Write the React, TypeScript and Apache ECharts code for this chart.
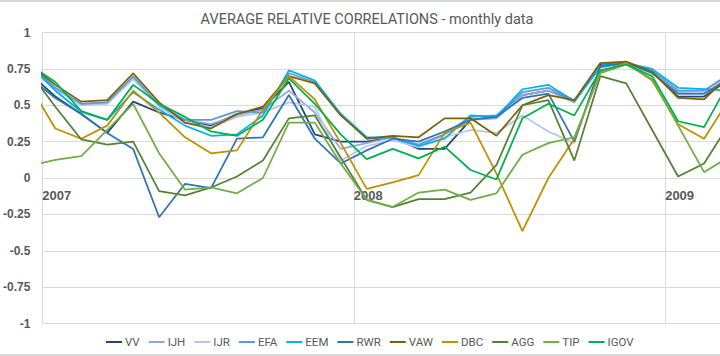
import React, { useEffect, useRef } from "react";
import * as echarts from "echarts";

const months = [
  "2006-12",
  "2007-01", "2007-02", "2007-03", "2007-04", "2007-05", "2007-06",
  "2007-07", "2007-08", "2007-09", "2007-10", "2007-11", "2007-12",
  "2008-01", "2008-02", "2008-03", "2008-04", "2008-05", "2008-06",
  "2008-07", "2008-08", "2008-09", "2008-10", "2008-11", "2008-12",
  "2009-01", "2009-02", "2009-03",
];

const seriesNames = ["VV", "IJH", "IJR", "EFA", "EEM", "RWR", "VAW", "DBC", "AGG", "TIP", "IGOV"];

const VV = [0.72, 0.56, 0.44, 0.31, 0.525, 0.45, 0.40, 0.36, 0.44, 0.48, 0.66, 0.30, 0.25, 0.25, 0.28, 0.20, 0.20, 0.40, 0.42, 0.57, 0.60, 0.53, 0.78, 0.79, 0.73, 0.56, 0.56, 0.68];
const IJH = [0.76, 0.62, 0.51, 0.52, 0.69, 0.50, 0.40, 0.37, 0.43, 0.47, 0.60, 0.45, 0.20, 0.24, 0.28, 0.22, 0.30, 0.40, 0.41, 0.57, 0.60, 0.52, 0.77, 0.79, 0.73, 0.58, 0.58, 0.70];
const IJR = [0.75, 0.61, 0.50, 0.51, 0.68, 0.49, 0.38, 0.35, 0.42, 0.45, 0.52, 0.49, 0.12, 0.22, 0.26, 0.21, 0.28, 0.33, 0.31, 0.43, 0.32, 0.24, 0.77, 0.79, 0.73, 0.59, 0.60, 0.71];
const EFA = [0.78, 0.62, 0.51, 0.52, 0.70, 0.50, 0.40, 0.40, 0.46, 0.45, 0.72, 0.66, 0.44, 0.27, 0.28, 0.23, 0.30, 0.42, 0.43, 0.59, 0.62, 0.53, 0.77, 0.79, 0.74, 0.60, 0.60, 0.72];
const EEM = [0.78, 0.60, 0.455, 0.40, 0.59, 0.47, 0.36, 0.29, 0.30, 0.43, 0.74, 0.67, 0.44, 0.28, 0.28, 0.22, 0.27, 0.43, 0.42, 0.61, 0.64, 0.53, 0.76, 0.79, 0.75, 0.62, 0.61, 0.60];
const RWR = [0.69, 0.55, 0.44, 0.31, 0.20, -0.27, -0.04, -0.07, 0.27, 0.28, 0.57, 0.27, 0.10, 0.19, 0.27, 0.25, 0.32, 0.40, 0.42, 0.55, 0.58, 0.25, 0.77, 0.79, 0.72, 0.58, 0.58, 0.68];
const VAW = [0.78, 0.64, 0.525, 0.535, 0.72, 0.52, 0.38, 0.34, 0.44, 0.49, 0.70, 0.65, 0.43, 0.27, 0.29, 0.28, 0.41, 0.41, 0.29, 0.50, 0.57, 0.535, 0.79, 0.80, 0.73, 0.55, 0.54, 0.71];
const DBC = [0.64, 0.34, 0.27, 0.36, 0.60, 0.45, 0.28, 0.17, 0.19, 0.47, 0.70, 0.54, 0.24, -0.075, -0.03, 0.02, 0.31, 0.38, 0.03, -0.365, 0.0, 0.27, 0.73, 0.79, 0.67, 0.37, 0.27, 0.55];
const AGG = [0.73, 0.49, 0.265, 0.23, 0.25, -0.09, -0.12, -0.065, 0.01, 0.12, 0.41, 0.43, 0.14, -0.15, -0.20, -0.145, -0.145, -0.10, 0.09, 0.50, 0.535, 0.12, 0.70, 0.65, 0.33, 0.01, 0.10, 0.38];
const TIP = [0.085, 0.125, 0.15, 0.33, 0.51, 0.17, -0.08, -0.065, -0.105, 0.0, 0.38, 0.38, 0.10, -0.15, -0.20, -0.10, -0.08, -0.15, -0.105, 0.16, 0.24, 0.28, 0.72, 0.78, 0.68, 0.36, 0.04, 0.15];
const IGOV = [0.78, 0.66, 0.46, 0.40, 0.64, 0.51, 0.42, 0.32, 0.29, 0.40, 0.685, 0.51, 0.30, 0.13, 0.20, 0.135, 0.215, 0.055, -0.01, 0.41, 0.51, 0.43, 0.74, 0.78, 0.70, 0.39, 0.35, 0.67];

const seriesValues = [VV, IJH, IJR, EFA, EEM, RWR, VAW, DBC, AGG, TIP, IGOV];
const seriesColors = ["#264478", "#8faadc", "#b4c7e7", "#5b9bd5", "#00b0f0", "#2e75b6", "#7f6000", "#bf9000", "#548235", "#70ad47", "#00b050"];

const yTicks = ["-1", "-0.75", "-0.5", "-0.25", "0", "0.25", "0.5", "0.75", "1"];
const yearLabels = ["2007", "2008", "2009"];

// month offset from Jan 2007 (mid-month positions)
function monthPos(s: string): number {
  const [y, m] = s.split("-").map(Number);
  return (y - 2007) * 12 + (m - 1) + 0.5;
}

export default function App() {
  const ref = useRef<HTMLDivElement>(null);
  useEffect(() => {
    if (!ref.current) return;
    const chart = echarts.init(ref.current, undefined, { renderer: "svg" });
    const sans = "Roboto, 'Liberation Sans', sans-serif";
    const gray = "#595959";
    chart.setOption({
      animation: false,
      backgroundColor: "#ffffff",
      title: {
        text: "AVERAGE RELATIVE CORRELATIONS - monthly data",
        left: 362,
        textAlign: "center",
        top: 7,
        textStyle: { fontFamily: sans, fontSize: 14.5, fontWeight: "normal", color: gray },
      },
      graphic: [
        { type: "line", shape: { x1: 0, y1: 1, x2: 760, y2: 1 }, style: { stroke: "#d9d9d9", lineWidth: 2 } },
        { type: "line", shape: { x1: 0, y1: 355, x2: 760, y2: 355 }, style: { stroke: "#d9d9d9", lineWidth: 2 } },
      ],
      legend: {
        left: 101,
        top: 331,
        icon: "rect",
        itemWidth: 16,
        itemHeight: 2,
        itemGap: 9,
        textStyle: { fontFamily: sans, fontSize: 11.5, color: gray, padding: [0, 0, 0, -2] },
        data: seriesNames,
      },
      grid: { left: 42, right: 17, top: 32.5, bottom: 32.5, containLabel: false },
      xAxis: {
        type: "value",
        min: 0,
        max: 27,
        interval: 12,
        offset: -145.5,
        axisLine: { show: true, onZero: false, lineStyle: { color: "#d9d9d9", width: 1 } },
        axisTick: { show: false },
        splitLine: { show: true, lineStyle: { color: "#d9d9d9", width: 1 } },
        axisLabel: {
          showMinLabel: true,
          align: "left",
          margin: 11,
          fontFamily: "'Liberation Sans', Arial, sans-serif",
          fontSize: 13,
          fontWeight: "bold",
          color: gray,
          formatter: (v: number) => (v % 12 === 0 ? yearLabels[v / 12] ?? "" : ""),
        },
      },
      yAxis: {
        type: "value",
        min: -1,
        max: 1,
        interval: 0.25,
        axisLine: { show: false },
        axisTick: { show: false },
        splitLine: { show: true, lineStyle: { color: "#d9d9d9", width: 1 } },
        axisLabel: {
          margin: 12,
          fontFamily: "'Liberation Sans', Arial, sans-serif",
          fontSize: 12,
          fontWeight: "bold",
          color: gray,
          formatter: (v: number) => {
            const idx = Math.round((v + 1) / 0.25);
            return yTicks[idx] ?? String(v);
          },
        },
      },
      series: seriesNames.map((name, i) => ({
        name,
        type: "line",
        data: seriesValues[i].map((v, k) => [monthPos(months[k]), v]),
        showSymbol: false,
        symbol: "none",
        clip: true,
        color: seriesColors[i],
        lineStyle: { width: 1.75, color: seriesColors[i] },
      })),
    });
    return () => chart.dispose();
  }, []);
  return (
    <div style={{ position: "fixed", left: 0, top: 0, width: 720, height: 356, overflow: "hidden", background: "#fff" }}>
      <div ref={ref} style={{ width: 760, height: 356 }} />
    </div>
  );
}
